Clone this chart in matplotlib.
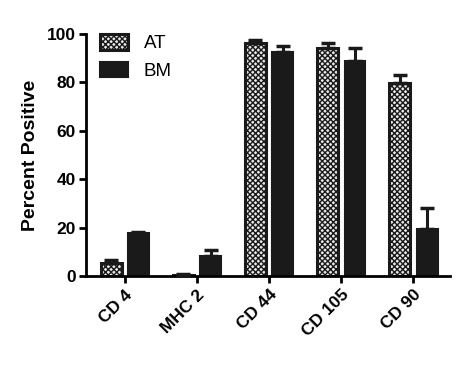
import numpy as np
import matplotlib
matplotlib.use("Agg")
import matplotlib.pyplot as plt

plt.rcParams["font.family"] = ["Liberation Sans", "DejaVu Sans"]
plt.rcParams["hatch.linewidth"] = 1.0

# ── DATA ─────────────────────────────────────────────
markers = ["CD 4", "MHC 2", "CD 44", "CD 105", "CD 90"]
at_mean = [5.4, 0.5, 96.1, 94.2, 79.8]
at_err  = [1.1, 0.2, 1.5, 2.2, 3.2]
bm_mean = [17.6, 8.2, 92.7, 89.0, 19.6]
bm_err  = [0.5, 2.4, 2.2, 5.3, 8.5]
y_ticks = [0, 20, 40, 60, 80, 100]

x = np.arange(len(markers))
w = 0.29
off = 0.19

fig = plt.figure(figsize=(4.74, 3.69), dpi=100)
ax = fig.add_axes([0.181, 0.252, 0.769, 0.656])

ax.bar(x - off, at_mean, width=w, facecolor="#e8e8e8", edgecolor="#1a1a1a",
       hatch="xxxxxx", linewidth=2.2, label="AT", zorder=2)
ax.bar(x + off, bm_mean, width=w, facecolor="#1a1a1a", edgecolor="#1a1a1a",
       linewidth=1.5, label="BM", zorder=2)

for xs, m, e in [(x - off, at_mean, at_err), (x + off, bm_mean, bm_err)]:
    ax.errorbar(xs, m, yerr=[np.zeros(len(e)), e], fmt="none", ecolor="#1a1a1a",
                elinewidth=2.2, capsize=5, capthick=2.5, zorder=3)

ax.set_xlim(-0.54, 4.51)
ax.set_ylim(0, 100)
ax.set_yticks(y_ticks)
ax.set_xticks(x)
ax.set_xticklabels(markers, rotation=45, ha="right", rotation_mode="anchor",
                   fontsize=12.5, fontweight="bold")
ax.tick_params(axis="y", labelsize=12.5, width=2, length=5, pad=2)
ax.tick_params(axis="x", width=2, length=5, pad=3)
for lab in ax.get_yticklabels():
    lab.set_fontweight("bold")
ax.set_ylabel("Percent Positive", fontsize=14, fontweight="bold", labelpad=6)

for s in ["top", "right"]:
    ax.spines[s].set_visible(False)
for s in ["left", "bottom"]:
    ax.spines[s].set_linewidth(2)

ax.legend(loc="upper left", bbox_to_anchor=(0.04, 1.0), frameon=False,
          fontsize=13.5, handlelength=1.5, handleheight=0.9, labelspacing=0.5,
          handletextpad=0.8, borderpad=0, borderaxespad=0)

plt.savefig("out.png", dpi=100)
